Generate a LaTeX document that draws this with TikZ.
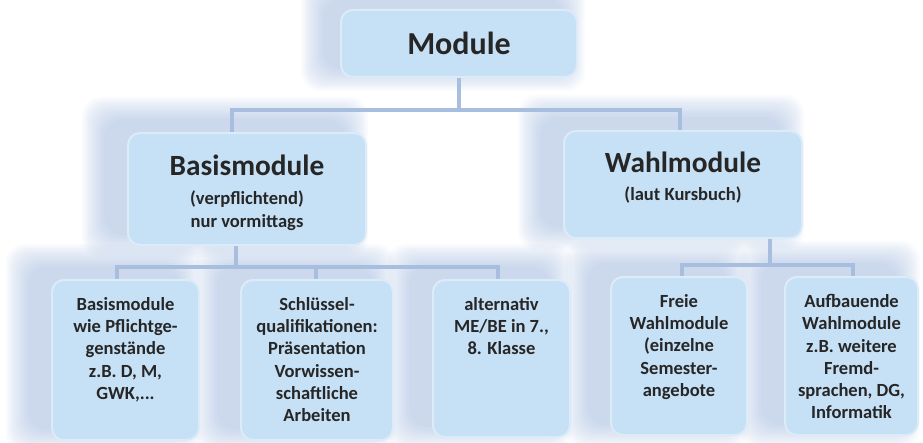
\documentclass[tikz,border=0pt]{standalone}
\usepackage{fontspec}
\setmainfont{Carlito}
\pgfdeclarelayer{background}
\pgfsetlayers{background,main}
\definecolor{boxfill}{HTML}{C6E0F5}
\definecolor{boxedge}{HTML}{DCEBF8}
\definecolor{conncol}{HTML}{A7BEDF}
\definecolor{shadcol}{HTML}{9DB6DC}
\definecolor{txt}{HTML}{262626}
\tikzset{
  box/.style={rectangle, rounded corners=9pt, fill=boxfill, draw=boxedge, line width=1.5pt, inner sep=0pt},
  conn/.style={draw=conncol, line width=3pt},
  lbl/.style={text=txt, font=\bfseries, align=center, inner sep=0pt},
  bigm/.style={lbl, font=\bfseries\fontsize{24}{28}\selectfont},
  big/.style={lbl, font=\bfseries\fontsize{22}{26}\selectfont},
  sub/.style={lbl, font=\bfseries\fontsize{13.9}{17.3}\selectfont},
  small/.style={lbl, font=\bfseries\fontsize{13.9}{16.7}\selectfont},
}
\newcommand{\shadowof}[3]{%
  \begin{pgfonlayer}{background}
  \foreach \r in {1,3,...,23}{
    \fill[shadcol, opacity=0.06, rounded corners=14pt]
      ([shift={(#2-\r,#3-\r)}]#1.north west) rectangle ([shift={(#2+\r,#3+\r)}]#1.south east);
  }
  \end{pgfonlayer}}
\begin{document}
\begin{tikzpicture}[x=0.75pt,y=-0.75pt]
\useasboundingbox (0,0) rectangle (923,442);
% boxes
\node[box, minimum width=177pt, minimum height=50.25pt] (mod) at (459,43.5) {};
\node[box, minimum width=178.5pt, minimum height=84pt] (basis) at (247,189) {};
\node[box, minimum width=178.5pt, minimum height=80.25pt] (wahl) at (683,184.5) {};
\node[box, minimum width=110.25pt, minimum height=120pt] (b1) at (125.5,360) {};
\node[box, minimum width=114pt, minimum height=120pt] (b2) at (317,360) {};
\node[box, minimum width=102.75pt, minimum height=117.75pt] (b3) at (501.5,358.5) {};
\node[box, minimum width=102pt, minimum height=118.5pt] (b4) at (679,356) {};
\node[box, minimum width=99.75pt, minimum height=118.5pt] (b5) at (851.5,356) {};
% shadows
\shadowof{mod}{-16}{-10}
\shadowof{basis}{-22}{-12}
\shadowof{wahl}{-22}{-12}
\shadowof{b1}{-22}{-12}
\shadowof{b2}{-22}{-12}
\shadowof{b3}{-22}{-12}
\shadowof{b4}{-22}{-12}
\shadowof{b5}{-22}{-12}
% texts
\node[bigm] (tmod) at (mod.center) {Module};
\node[big, anchor=north] (tbasis) at (247,155) {Basismodule};
\node[sub, anchor=north] (sbasis) at (247,190) {(verpflichtend)\\nur vormittags};
\node[big, anchor=north] (twahl) at (683,152) {Wahlmodule};
\node[sub, anchor=north] (swahl) at (683,186) {(laut Kursbuch)};
\node[small, anchor=north] (t1) at (125.5,297) {Basismodule\\wie Pflichtge-\\genstände\\z.B. D, M,\\GWK,...};
\node[small, anchor=north] (t2) at (317,297) {Schlüssel-\\qualifikationen:\\Präsentation\\Vorwissen-\\schaftliche\\Arbeiten};
\node[small, anchor=north] (t3) at (501.5,297) {alternativ\\ME/BE in 7.,\\8. Klasse};
\node[small, anchor=north] (t4) at (679,294) {Freie\\Wahlmodule\\(einzelne\\Semester-\\angebote};
\node[small, anchor=north] (t5) at (851.5,294) {Aufbauende\\Wahlmodule\\z.B. weitere\\Fremd-\\sprachen, DG,\\Informatik};
% connectors
\coordinate (j1) at (459,110);
\coordinate (j2) at (236,267);
\coordinate (j3) at (770,265);
\draw[conn] (mod.south) -- (j1);
\draw[conn] ([xshift=-11.25pt]basis.north) |- (j1) -| ([xshift=-2.25pt]wahl.north);
\draw[conn] ([xshift=-8.25pt]basis.south) -- (j2);
\draw[conn] ([xshift=-6.4pt]b1.north) |- (j2) -| ([xshift=-2.6pt]b3.north);
\draw[conn] ([xshift=-0.75pt]b2.north) -- ([xshift=-0.75pt]b2.north |- j2);
\draw[conn] ([xshift=65.25pt]wahl.south) -- (j3);
\draw[conn] ([xshift=2.25pt]b4.north) |- (j3) -| ([xshift=1.1pt]b5.north);
\end{tikzpicture}
\end{document}
